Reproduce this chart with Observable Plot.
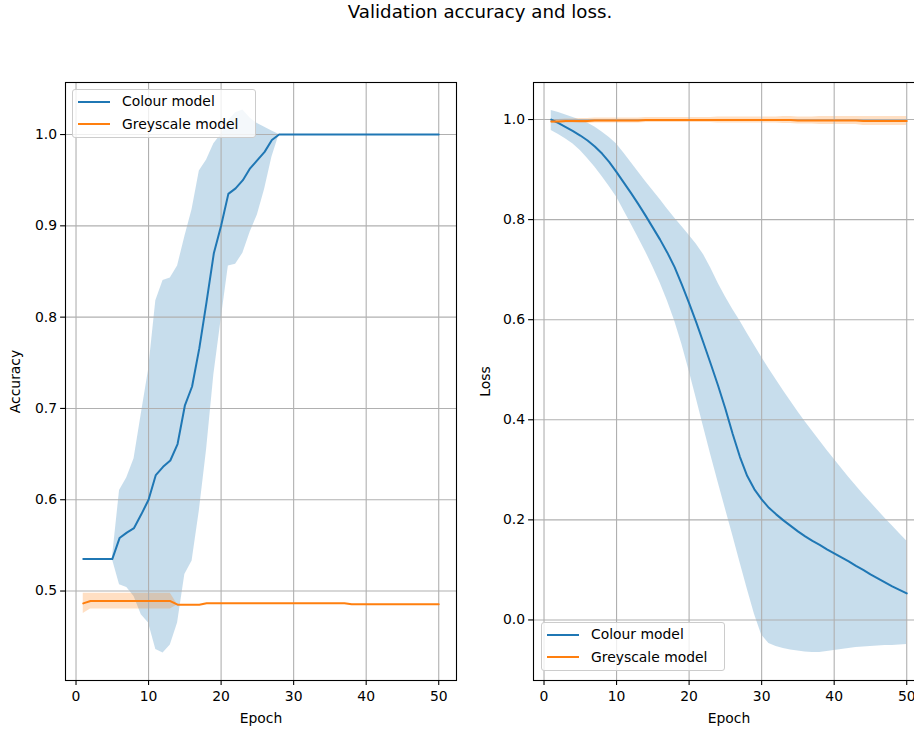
<!DOCTYPE html>
<html>
<head>
<meta charset="utf-8">
<script src="https://cdn.jsdelivr.net/npm/d3@7"></script>
<script src="https://cdn.jsdelivr.net/npm/@observablehq/plot@0.6"></script>
<style>
  html, body { margin: 0; padding: 0; background: white; }
  #fig { position: relative; width: 914px; height: 732px; overflow: hidden; font-family: "DejaVu Sans", sans-serif; color: black; }
  #title { position: absolute; left: 0; top: 3px; width: 960px; text-align: center; font-size: 18.2px; line-height: 18.2px; }
  .panel { position: absolute; top: 0; height: 732px; }
  .panel svg { max-width: none !important; }
  .legend { position: absolute; width: 182px; height: 47px; border: 1px solid #cccccc; border-radius: 3px; background: rgba(255,255,255,0.8); font-size: 13.9px; }
  .legend .sw { position: absolute; left: 5px; width: 32px; height: 2px; }
  .legend .lb { position: absolute; left: 49px; line-height: 16px; white-space: nowrap; }
</style>
</head>
<body>
<div id="fig">
  <div id="title">Validation accuracy and loss.</div>
</div>
<script>
const epochs = [1,2,3,4,5,6,7,8,9,10,11,12,13,14,15,16,17,18,19,20,21,22,23,24,25,26,27,28,29,30,31,32,33,34,35,36,37,38,39,40,41,42,43,44,45,46,47,48,49,50];
const xTicks = [0, 10, 20, 30, 40, 50];
const accTicks = [0.5, 0.6, 0.7, 0.8, 0.9, 1.0];
const lossTicks = [0.0, 0.2, 0.4, 0.6, 0.8, 1.0];
const seriesNames = ["Colour model", "Greyscale model"];
const seriesColors = ["#1f77b4", "#ff7f0e"];

// Accuracy — colour model (mean, band lower, band upper)
const colourAccMean = [0.535,0.535,0.535,0.535,0.535,0.558,0.564,0.569,0.584,0.600,
  0.627,0.636,0.643,0.661,0.703,0.724,0.766,0.817,0.870,0.900,
  0.935,0.941,0.950,0.963,0.972,0.981,0.994,1.0,1.0,1.0,
  1.0,1.0,1.0,1.0,1.0,1.0,1.0,1.0,1.0,1.0,
  1.0,1.0,1.0,1.0,1.0,1.0,1.0,1.0,1.0,1.0];
const colourAccUpper = [0.535,0.535,0.535,0.535,0.535,0.610,0.624,0.645,0.694,0.742,
  0.818,0.840,0.843,0.856,0.888,0.918,0.960,0.972,0.990,1.000,
  1.015,1.024,1.027,1.018,1.012,1.008,1.004,1.0,1.0,1.0,
  1.0,1.0,1.0,1.0,1.0,1.0,1.0,1.0,1.0,1.0,
  1.0,1.0,1.0,1.0,1.0,1.0,1.0,1.0,1.0,1.0];
const colourAccLower = [0.535,0.535,0.535,0.535,0.535,0.507,0.504,0.494,0.474,0.465,
  0.436,0.432,0.441,0.465,0.518,0.533,0.588,0.655,0.737,0.797,
  0.856,0.858,0.870,0.893,0.912,0.940,0.975,1.0,1.0,1.0,
  1.0,1.0,1.0,1.0,1.0,1.0,1.0,1.0,1.0,1.0,
  1.0,1.0,1.0,1.0,1.0,1.0,1.0,1.0,1.0,1.0];

// Accuracy — greyscale model (mean, std)
const greyAccMean = [0.4865,0.489,0.489,0.489,0.489,0.489,0.489,0.489,0.489,0.489,
  0.489,0.489,0.489,0.485,0.485,0.485,0.485,0.4865,0.4865,0.4865,
  0.4865,0.4865,0.4865,0.4865,0.4865,0.4865,0.4865,0.4865,0.4865,0.4865,
  0.4865,0.4865,0.4865,0.4865,0.4865,0.4865,0.4865,0.4854,0.4854,0.4854,
  0.4854,0.4854,0.4854,0.4854,0.4854,0.4854,0.4854,0.4854,0.4854,0.4854];
const greyAccStd = [0.011,0.0086,0.0086,0.0086,0.0086,0.0086,0.0086,0.0086,0.0086,0.0086,
  0.0086,0.0086,0.0086,0,0,0,0,0,0,0,
  0,0,0,0,0,0,0,0,0,0,
  0,0,0,0,0,0,0,0,0,0,
  0,0,0,0,0,0,0,0,0,0];

// Loss — colour model (mean, band lower, band upper)
const colourLossMean = [1.000,0.993,0.985,0.977,0.968,0.958,0.946,0.932,0.915,0.895,
  0.874,0.853,0.831,0.808,0.784,0.760,0.734,0.705,0.670,0.633,
  0.594,0.553,0.511,0.468,0.422,0.372,0.326,0.288,0.261,0.241,
  0.224,0.211,0.199,0.188,0.177,0.167,0.158,0.150,0.141,0.133,
  0.125,0.117,0.108,0.100,0.091,0.083,0.075,0.067,0.060,0.053];
const colourLossUpper = [1.018,1.014,1.009,1.004,0.999,0.993,0.985,0.975,0.964,0.951,
  0.933,0.914,0.895,0.876,0.858,0.840,0.821,0.803,0.786,0.769,
  0.751,0.730,0.703,0.673,0.646,0.621,0.598,0.573,0.549,0.525,
  0.502,0.480,0.458,0.437,0.416,0.396,0.377,0.358,0.339,0.321,
  0.303,0.285,0.268,0.251,0.235,0.219,0.203,0.188,0.173,0.158];
const colourLossLower = [0.978,0.970,0.961,0.951,0.938,0.922,0.905,0.886,0.866,0.845,
  0.818,0.791,0.764,0.736,0.706,0.674,0.638,0.598,0.551,0.498,
  0.442,0.385,0.329,0.275,0.222,0.170,0.116,0.063,0.012,-0.030,
  -0.047,-0.053,-0.057,-0.060,-0.062,-0.064,-0.065,-0.065,-0.063,-0.061,
  -0.059,-0.057,-0.055,-0.054,-0.053,-0.052,-0.051,-0.051,-0.050,-0.049];

// Loss — greyscale model (mean, std)
const greyLossMean = [0.996,0.996,0.997,0.997,0.997,0.997,0.998,0.998,0.998,0.998,
  0.998,0.998,0.998,0.999,0.999,0.999,0.999,0.999,0.999,0.999,
  0.999,0.999,0.999,0.999,0.999,0.999,0.999,0.999,0.999,0.999,
  0.999,0.999,0.999,0.999,0.998,0.998,0.998,0.998,0.998,0.998,
  0.998,0.998,0.998,0.997,0.997,0.997,0.997,0.997,0.997,0.997];
const greyLossStd = [0.004,0.004,0.004,0.004,0.005,0.005,0.005,0.005,0.005,0.005,
  0.005,0.005,0.005,0.005,0.005,0.005,0.005,0.005,0.005,0.005,
  0.005,0.005,0.005,0.006,0.006,0.006,0.006,0.006,0.006,0.006,
  0.006,0.006,0.007,0.007,0.007,0.007,0.007,0.008,0.008,0.008,
  0.008,0.008,0.008,0.009,0.009,0.009,0.009,0.009,0.009,0.009];

const accColour = epochs.map((e, i) => ({epoch: e, mean: colourAccMean[i], lo: colourAccLower[i], hi: colourAccUpper[i]}));
const accGrey = epochs.map((e, i) => ({epoch: e, mean: greyAccMean[i], lo: greyAccMean[i] - greyAccStd[i], hi: greyAccMean[i] + greyAccStd[i]}));
const lossColour = epochs.map((e, i) => ({epoch: e, mean: colourLossMean[i], lo: colourLossLower[i], hi: colourLossUpper[i]}));
const lossGrey = epochs.map((e, i) => ({epoch: e, mean: greyLossMean[i], lo: greyLossMean[i] - greyLossStd[i], hi: greyLossMean[i] + greyLossStd[i]}));

function panel({colour, grey, yDomain, yTicks, yLabel, width, marginLeft, marginRight, labelDx}) {
  return Plot.plot({
    width, height: 732,
    marginLeft, marginRight, marginTop: 82, marginBottom: 52,
    style: {fontFamily: "DejaVu Sans", fontSize: "13.9px", background: "transparent", overflow: "visible", color: "black", maxWidth: "none"},
    x: {domain: [-1.45, 52.45]},
    y: {domain: yDomain},
    marks: [
      Plot.areaY(colour, {x: "epoch", y1: "lo", y2: "hi", fill: seriesColors[0], fillOpacity: 0.25}),
      Plot.areaY(grey, {x: "epoch", y1: "lo", y2: "hi", fill: seriesColors[1], fillOpacity: 0.25}),
      Plot.gridX(xTicks, {stroke: "#b0b0b0", strokeOpacity: 1, strokeWidth: 1.1}),
      Plot.gridY(yTicks, {stroke: "#b0b0b0", strokeOpacity: 1, strokeWidth: 1.1}),
      Plot.lineY(colour, {x: "epoch", y: "mean", stroke: seriesColors[0], strokeWidth: 2}),
      Plot.lineY(grey, {x: "epoch", y: "mean", stroke: seriesColors[1], strokeWidth: 2}),
      Plot.axisX(xTicks, {tickSize: 4.9, tickPadding: 6, tickFormat: d => String(d), label: null, strokeWidth: 1.1, fontSize: 13.9}),
      Plot.axisY(yTicks, {tickSize: 4.9, tickPadding: 3.5, tickFormat: d3.format(".1f"), label: null, strokeWidth: 1.1, fontSize: 13.9}),
      Plot.frame({stroke: "black", strokeWidth: 1.1}),
      Plot.text([yLabel], {frameAnchor: "left", dx: labelDx, rotate: -90, text: d => d, textAnchor: "middle", lineAnchor: "middle", fontSize: 13.9, fill: "black"}),
      Plot.text(["Epoch"], {frameAnchor: "bottom", dy: 38.5, text: d => d, textAnchor: "middle", lineAnchor: "middle", fontSize: 13.9, fill: "black"})
    ]
  });
}

const fig = document.getElementById("fig");

function place(node, left, width) {
  const wrap = document.createElement("div");
  wrap.className = "panel";
  wrap.style.left = left + "px";
  wrap.style.width = width + "px";
  node.style.maxWidth = "none";
  node.style.width = width + "px";
  node.style.height = "732px";
  wrap.appendChild(node);
  fig.appendChild(wrap);
}

place(panel({colour: accColour, grey: accGrey, yDomain: [0.402, 1.057], yTicks: accTicks, yLabel: "Accuracy",
  width: 462, marginLeft: 65, marginRight: 6, labelDx: -50}), 0, 462);
place(panel({colour: lossColour, grey: lossGrey, yDomain: [-0.121, 1.074], yTicks: lossTicks, yLabel: "Loss",
  width: 469, marginLeft: 68, marginRight: 10, labelDx: -48}), 465, 469);

function legend(left, top) {
  const box = document.createElement("div");
  box.className = "legend";
  box.style.left = left + "px";
  box.style.top = top + "px";
  seriesNames.forEach((name, i) => {
    const yc = 11.5 + i * 22.5;
    const sw = document.createElement("div");
    sw.className = "sw";
    sw.style.top = (yc - 1) + "px";
    sw.style.background = seriesColors[i];
    box.appendChild(sw);
    const lb = document.createElement("div");
    lb.className = "lb";
    lb.style.top = (yc - 8.5) + "px";
    lb.textContent = name;
    box.appendChild(lb);
  });
  fig.appendChild(box);
}
legend(72, 89);
legend(541, 622);
</script>
</body>
</html>
